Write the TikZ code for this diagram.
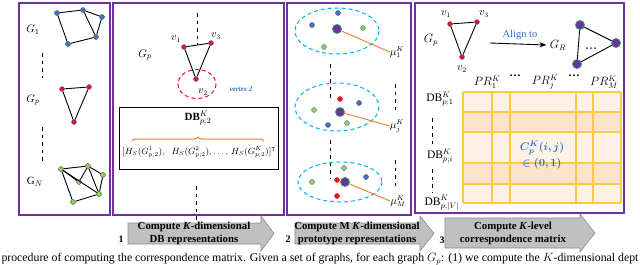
\documentclass[tikz,border=0pt]{standalone}
\usepackage{amsmath,amssymb,bm}
\usepackage{fontspec}
\setmainfont{Liberation Serif}
\usetikzlibrary{decorations.pathreplacing,arrows.meta}
\definecolor{panelpurple}{RGB}{112,48,160}
\definecolor{nodeblue}{RGB}{68,114,196}
\definecolor{nodered}{RGB}{230,20,30}
\definecolor{nodegreen}{RGB}{146,208,80}
\definecolor{protopurple}{RGB}{112,48,160}
\definecolor{protogreen}{RGB}{40,160,90}
\definecolor{clusterblue}{RGB}{0,176,240}
\definecolor{braceorange}{RGB}{237,125,49}
\definecolor{textblue}{RGB}{40,110,220}
\definecolor{cellhi}{RGB}{252,228,204}
\definecolor{celllo}{RGB}{254,242,231}
\definecolor{gridgold}{RGB}{255,200,70}
\definecolor{arrowgray}{RGB}{192,192,192}
\begin{document}
\begin{tikzpicture}[x=1pt, y=-1pt, >=Stealth,
  every node/.style={font=\fontsize{10}{12}\selectfont},
  panel/.style={draw=panelpurple, line width=1.6pt},
  vtx/.style={circle, draw=black!70, line width=0.4pt, inner sep=0pt, minimum size=5pt},
  vb/.style={vtx, fill=nodeblue},
  vr/.style={vtx, fill=nodered, draw=nodeblue},
  vg/.style={vtx, fill=nodegreen},
  proto/.style={circle, draw=protogreen, line width=0.8pt, fill=protopurple, inner sep=0pt, minimum size=9pt},
  cluster/.style={draw=clusterblue, dashed, line width=1pt, dash pattern=on 4pt off 3pt},
  gedge/.style={line width=0.9pt},
  vdash/.style={dashed, line width=1pt, dash pattern=on 3.5pt off 4pt},
  procarrow/.style={fill=arrowgray, draw=black!45, line width=0.6pt},
  arrowtext/.style={font=\bfseries\fontsize{10.8}{13}\selectfont, align=center},
  lbl/.style={font=\fontsize{10.5}{11}\selectfont, inner sep=0pt},
  biglbl/.style={font=\fontsize{11.5}{12}\selectfont, inner sep=0pt}]
\useasboundingbox (0,0) rectangle (640,265);

\draw[panel] (19,3) rectangle (110,215);
\draw[panel] (113,3) rectangle (284,215);
\draw[panel] (287,3) rectangle (411,215);
\draw[panel] (415,3) rectangle (624,213);

\node[font=\fontsize{11}{12}\selectfont] (g1) at (33,30) {$G_1$};
\node[font=\fontsize{11}{12}\selectfont] (gp) at (33,100) {$G_p$};
\node[font=\fontsize{11}{12}\selectfont] (gn) at (35,182) {$\mathrm{G}_N$};
\draw[vdash] (42,53) -- (42,78);
\draw[vdash] (42,127) -- (42,161);

\node[vb] (a1) at (57,13) {};
\node[vb] (a2) at (83,10) {};
\node[vb] (a3) at (102,17) {};
\node[vb] (a4) at (96,37) {};
\node[vb] (a5) at (68,44) {};
\draw[gedge] (a1) -- (a2) -- (a3) -- (a4) -- (a5) -- (a1);
\draw[gedge] (a2) -- (a4);

\node[vr] (b1) at (62,89) {};
\node[vr] (b2) at (89,87) {};
\node[vr] (b3) at (74,122) {};
\draw[gedge] (b1) -- (b2) -- (b3) -- (b1);

\node[vg] (c1) at (61,169) {};
\node[vg] (c2) at (88,166) {};
\node[vg] (c3) at (103,175) {};
\node[vg] (c4) at (79,182) {};
\node[vg] (c5) at (99,194) {};
\node[vg] (c6) at (73,202) {};
\draw[gedge] (c1) -- (c2) -- (c3) -- (c5) -- (c6) -- (c1);
\draw[gedge] (c1) -- (c4) -- (c2) -- (c5);
\draw[gedge] (c1) -- (c5);

\node[font=\fontsize{11}{12}\selectfont] (gp2) at (145,55) {$G_p$};
\node[vr] (v1) at (184,47) {};
\node[vr] (v3) at (211,43) {};
\node[vr] (v2) at (196,79) {};
\draw[gedge] (v1) -- (v3) -- (v2) -- (v1);
\coordinate (top2) at (197.5,13);
\coordinate (mid13) at (197.5,45);
\draw[vdash] (top2) -- (mid13);
\node[lbl] (v1l) at (176,39) {$v_1$};
\node[lbl] (v3l) at (216,36) {$v_3$};
\node[lbl] (v2l) at (203,92) {$v_2$};
\draw[nodered, dashed, line width=1pt, dash pattern=on 4pt off 3pt] (197,84) ellipse (19 and 14.5);
\node[font=\bfseries\itshape\fontsize{7}{8}\selectfont, text=textblue] (vx) at (241,89) {vertex 2};

\node[draw, line width=0.9pt, minimum width=159pt, minimum height=62pt, inner sep=0pt] (dbbox) at (198.5,138) {};
\node[font=\fontsize{11}{12}\selectfont] (dbk) at (198,118) {$\mathbf{DB}^K_{p;2}$};
\draw[braceorange, line width=1pt, decorate, decoration={brace, amplitude=4pt}] (132,141) -- (264,141);
\node[font=\fontsize{8.6}{9}\selectfont] (hs) at (199,152) {$[H_S(G^1_{p;2}),\;\; H_S(G^2_{p;2}),\ldots,\, H_S(G^K_{p;2})]^{\intercal}$};
\draw[vdash] (196,186) -- (196,222);

\draw[cluster] (337,31) ellipse (42 and 23);
\draw[cluster] (337,107) ellipse (42 and 24);
\draw[cluster] (340,182) ellipse (42 and 20);
\draw[vdash] (330,64) -- (330,100);
\draw[vdash] (330,140) -- (330,178);
\draw[vdash] (395,84) -- (395,112);
\draw[vdash] (395,160) -- (395,190);

\node[vb] (p1a) at (338,13) {};
\node[vb] (p1b) at (312,25) {};
\node[vg, draw=nodeblue] (p1c) at (363,28) {};
\node[vg, draw=nodeblue] (p1d) at (324,47) {};
\node[proto] (mu1) at (337,29) {};
\node[lbl] (mu1l) at (397,52) {$\mu^K_1$};
\draw[braceorange, line width=0.9pt] (mu1) -- (mu1l.west);

\node[vr, draw=nodered] (p2a) at (340,99) {};
\node[vb] (p2b) at (359,103) {};
\node[vg, draw=nodeblue] (p2c) at (314,110) {};
\node[vb] (p2d) at (328,125) {};
\node[vg, draw=nodeblue] (p2e) at (347,123) {};
\node[proto] (muj) at (340,112) {};
\node[lbl] (mujl) at (397,126) {$\mu^K_j$};
\draw[braceorange, line width=0.9pt] (muj) -- (mujl.west);

\node[vg, draw=nodeblue] (p3a) at (344,168) {};
\node[vb] (p3b) at (366,177) {};
\node[vg, draw=nodeblue] (p3c) at (312,182) {};
\node[vr, draw=nodered] (p3d) at (337,180) {};
\node[vr, draw=nodered] (p3e) at (337,196) {};
\node[proto] (muM) at (345,182) {};
\node[lbl] (muMl) at (398,201) {$\mu^K_M$};
\draw[braceorange, line width=0.9pt] (muM) -- (muMl.west);

\node[font=\fontsize{11.5}{12}\selectfont] (gp3) at (431,40) {$G_p$};
\node[vr] (w1) at (450,24) {};
\node[vr] (w3) at (477,22) {};
\node[vr] (w2) at (462,57) {};
\draw[gedge] (w1) -- (w3) -- (w2) -- (w1);
\node[lbl] (w1l) at (446,14) {$v_1$};
\node[lbl] (w3l) at (484,14) {$v_3$};
\node[lbl] (w2l) at (462,69) {$v_2$};
\coordinate (alignfrom) at (490,43);
\node[font=\fontsize{11.5}{12}\selectfont] (gr) at (558,45) {$G_R$};
\draw[->, line width=0.9pt] (alignfrom) -- (gr.west);
\node[text=textblue, font=\fontsize{10.5}{11}\selectfont] (align) at (520,35) {Align to};
\node[proto] (r1) at (580,25) {};
\node[proto] (r2) at (616,43) {};
\node[proto] (r3) at (577,64) {};
\draw[gedge] (r1) -- (r2) -- (r3) -- (r1);
\node[text=protopurple, font=\bfseries\fontsize{12}{12}\selectfont] (rdots) at (591,49) {\textbf{…}};

\node[biglbl] (pr1) at (487,82) {$PR^K_1$};
\node[biglbl] (prd1) at (515,76) {\textbf{…}};
\node[biglbl] (prj) at (545,82) {$PR^K_j$};
\node[biglbl] (prd2) at (574,76) {\textbf{…}};
\node[biglbl] (prM) at (604,82) {$PR^K_M$};

\fill[celllo] (463,92) rectangle (621,203);
\fill[cellhi] (463,112) rectangle (621,132);
\fill[cellhi] (463,163) rectangle (621,184);
\foreach \x in {463,492,510,576,593,621}
  \draw[gridgold, line width=1.1pt] (\x,92) -- (\x,203);
\foreach \y in {92,112,132,163,184,203}
  \draw[gridgold, line width=1.1pt] (463,\y) -- (621,\y);
\node[text=textblue, font=\fontsize{11}{12}\selectfont] (cpk) at (542,148) {$\bm{C^K_p(i,j)}$};
\node[text=textblue, font=\fontsize{11}{12}\selectfont] (cin) at (542,164) {$\bm{\in(0,1)}$};

\node[biglbl] (db1) at (440,99) {$\mathrm{DB}^K_{p;1}$};
\node[biglbl] (dbi) at (440,156) {$\mathrm{DB}^K_{p;i}$};
\node[biglbl] (dbV) at (442,203) {$\mathrm{DB}^K_{p;|V|}$};
\draw[vdash] (432,118) -- (432,146);
\draw[vdash] (432,169) -- (432,192);

\draw[procarrow] (128,223) -- (261,223) -- (261,216) -- (274,233.5) -- (261,251) -- (261,244) -- (128,244) -- cycle;
\draw[procarrow] (295,223) -- (420,223) -- (420,216) -- (434,233.5) -- (420,251) -- (420,244) -- (295,244) -- cycle;
\draw[procarrow] (445,218) -- (580,218) -- (580,214) -- (595,233) -- (580,252) -- (580,248) -- (445,248) -- cycle;
\node[arrowtext] (s1) at (194,233.5) {Compute \textit{K}-dimensional\\DB representations};
\node[arrowtext] (s2) at (357,233.5) {Compute M \textit{K}-dimensional\\prototype representations};
\node[arrowtext] (s3) at (513,233) {Compute \textit{K}-level\\correspondence matrix};
\node[font=\bfseries\fontsize{10}{11}\selectfont] (n1) at (121,239) {1};
\node[font=\bfseries\fontsize{10}{11}\selectfont] (n2) at (288,239) {2};
\node[font=\bfseries\fontsize{10}{11}\selectfont] (n3) at (442,240) {3};

\node[font=\fontsize{11.8}{12}\selectfont, inner sep=0pt] (cap) at (320,259) {procedure of computing the correspondence matrix. Given a set of graphs, for each graph $G_p$: (1) we compute the $K$-dimensional dept};
\end{tikzpicture}
\end{document}
